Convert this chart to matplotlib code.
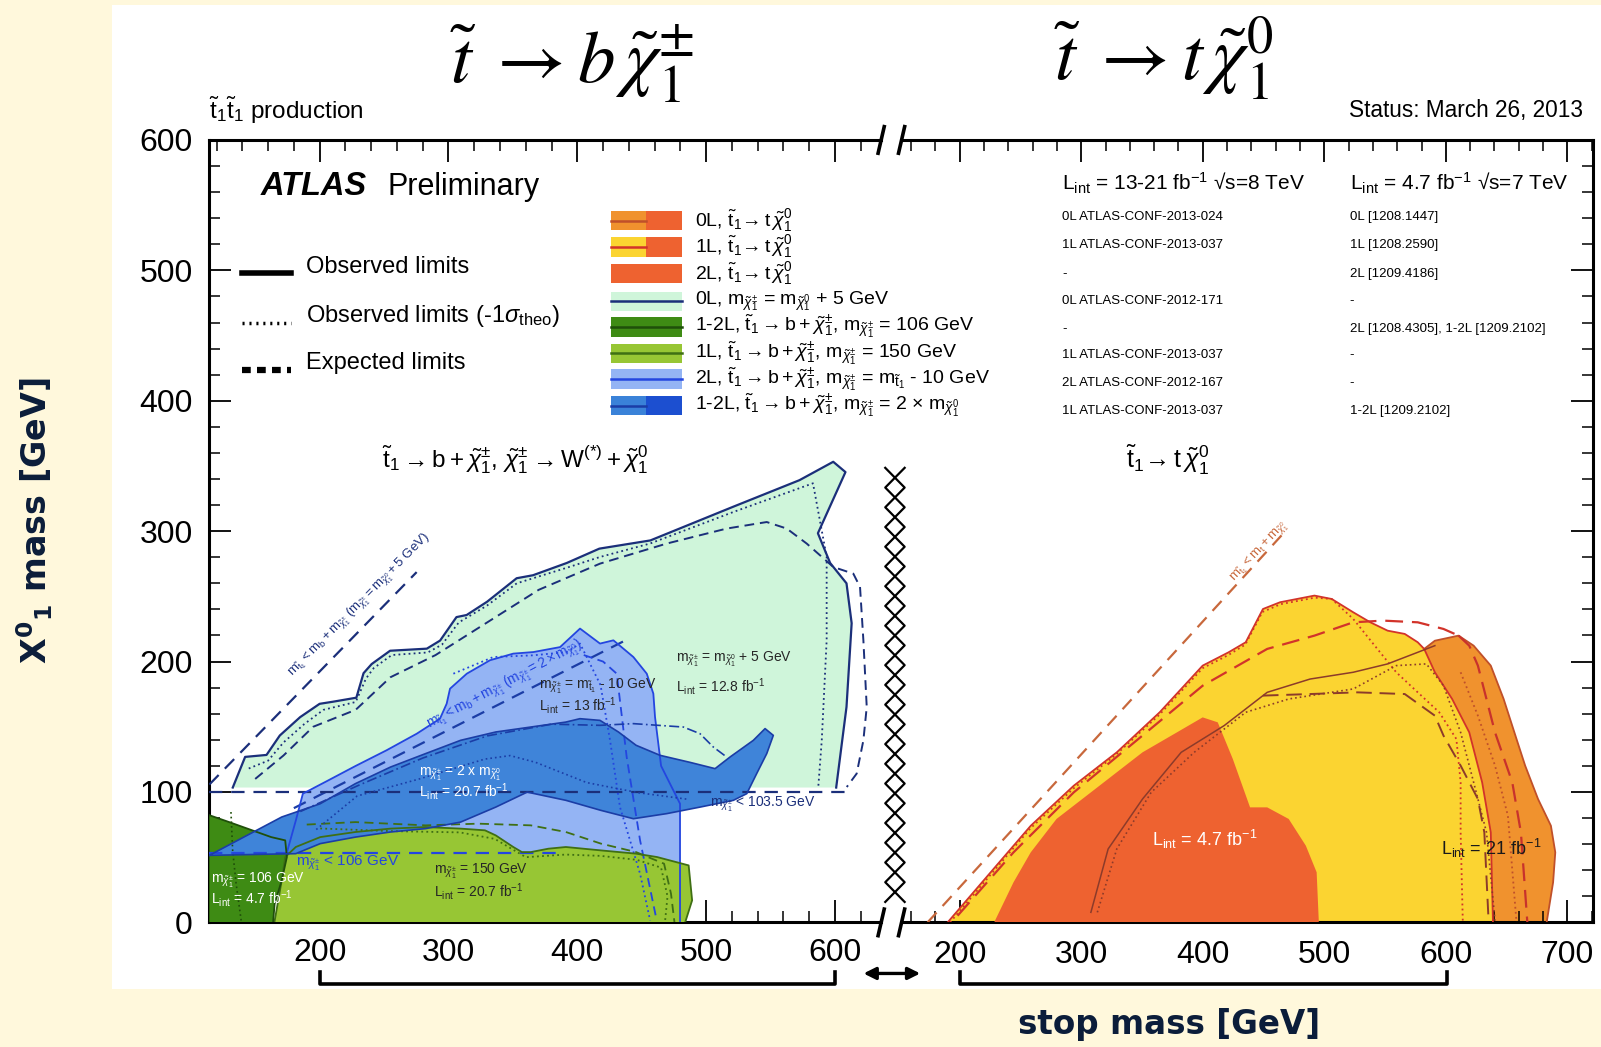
import matplotlib
matplotlib.use("Agg")
import matplotlib.pyplot as plt
from matplotlib.patches import Rectangle, FancyArrowPatch
from matplotlib.lines import Line2D
from matplotlib.ticker import MultipleLocator
import numpy as np

# ---------------------------------------------------------------
# Exclusion contours, (stop mass, neutralino mass) in GeV
# ---------------------------------------------------------------
# stop -> b + chargino panel
mint_x = [132.6, 142.2, 158.8, 169.1, 184.9, 200.0, 210.3, 228.5, 234.1, 240.4, 254.7, 283.2, 293.5,
          306.2, 314.1, 330.0, 352.9, 365.6, 391.8, 417.1, 456.7, 520.9, 572.4, 598.6, 608.1, 586.7,
          596.2, 608.9, 612.9, 608.9, 600.9]
mint_y = [103.4, 126.9, 128.4, 143.3, 157.4, 167.6, 169.2, 172.3, 191.1, 198.1, 208.3, 209.9, 216.1,
          234.1, 235.7, 245.9, 263.9, 266.2, 275.6, 286.6, 292.9, 318.7, 339.1, 353.2, 345.3, 298.4,
          275.6, 260.0, 229.4, 165.2, 103.4]
mint_m1s_x = [145, 160, 172, 188, 203, 228, 236, 242, 256, 284, 295, 308, 330, 353, 392, 417.6, 456.4,
              521.1, 582.9, 593.5, 593.5, 589.7, 587.0]
mint_m1s_y = [118, 124, 138, 152, 163, 169, 187, 195, 205, 207, 213, 230, 243, 260, 272, 280.2, 290.5,
              314.7, 336.7, 280.2, 216.3, 139.6, 103.8]
mint_exp_x = [150, 172, 195, 228, 255, 290, 330, 370, 417.6, 469.4, 516.0, 547.0, 562.5, 578.0, 598.7,
              614.2, 619.4, 622.0, 624.6, 622.0, 616.8, 609.1]
mint_exp_y = [110, 128, 150, 163, 188, 205, 230, 255, 275.1, 290.5, 302.0, 307.0, 302.0, 290.5, 272.5,
              267.4, 257.2, 216.3, 165.1, 139.6, 114.1, 103.8]

lb_x = [175, 175, 181.5, 187.0, 205.0, 228.0, 252.0, 275.4, 293.4, 298.6, 301.2, 314.2, 332.2, 350.3,
        365.9, 386.6, 402.1, 417.6, 428.0, 443.5, 453.9, 459.0, 460.3, 465.0, 479.7, 479.7]
lb_y = [0, 55, 78.0, 98.7, 108.0, 120.0, 132.0, 144.7, 156.2, 167.7, 179.2, 190.7, 201.0, 206.1,
        207.3, 211.1, 225.3, 213.8, 216.3, 203.5, 190.7, 175.4, 157.5, 120.0, 91.0, 0]
lb_m1s_x = [303.8, 334.8, 365.9, 391.8, 402.1, 410.0, 418.0, 425.4, 433.1, 448.7, 456.5]
lb_m1s_y = [190.7, 203.5, 204.8, 207.3, 213.8, 198.0, 182.0, 139.6, 88.4, 37.3, 1.5]
lb_exp_x = [405, 420, 430.6, 438.3, 448.7, 461.6]
lb_exp_y = [205, 200, 190.7, 126.8, 62.9, 1.5]

db_x = [114.4, 170.6, 200.5, 227.8, 255.0, 282.2, 309.4, 336.7, 363.9, 391.1, 402.0, 417.6, 431.9,
        445.6, 464.2, 487.5, 506.9, 518.5, 536.6, 545.7, 552.1, 547.0, 539.2, 531.5, 521.1, 495.2,
        469.4, 443.5, 418.3, 391.1, 361.1, 336.7, 309.4, 282.2, 255.0, 227.8, 200.5, 181.5, 114.4]
db_y = [51.4, 80.8, 91.0, 106.4, 119.1, 129.4, 139.6, 146.0, 149.8, 153.6, 156.2, 154.9, 146.0,
        135.8, 128.1, 122.7, 117.9, 126.8, 139.6, 148.6, 143.4, 129.4, 114.1, 98.7, 93.6, 88.4,
        83.4, 79.5, 85.9, 93.6, 99.9, 88.4, 76.9, 71.9, 69.3, 65.4, 60.4, 52.7, 51.4]
db_exp_x = [185, 230, 280, 330, 380, 417.6, 443.5, 482.3, 495.2, 505.5, 515.9]
db_exp_y = [85, 105, 126, 143, 152, 151.1, 152.4, 149.8, 144.7, 134.5, 126.8]
db_m1s_x = [197.4, 229.1, 276.7, 328.1, 347.9, 367.7, 407.3, 447.0, 486.5]
db_m1s_y = [71.2, 96.9, 109.8, 125.2, 127.9, 122.7, 107.2, 99.5, 94.3]

lg_x = [164.9, 170.6, 173.3, 181.5, 200.5, 227.8, 255.0, 282.2, 309.4, 328.3, 336.7, 350.3, 357.0,
        363.9, 377.5, 391.1, 418.3, 445.6, 461.9, 486.4, 489.1, 483.7]
lg_y = [0, 32.2, 50.1, 57.8, 65.4, 69.3, 71.9, 73.1, 71.9, 70.6, 66.7, 57.8, 53.9,
        53.9, 56.5, 57.8, 55.2, 52.7, 50.1, 43.7, 16.9, 0]
lg_exp_x = [190, 227.8, 282.2, 323.0, 363.9, 391.1, 418.3, 445.6, 467.3, 472.7, 475.4]
lg_exp_y = [75, 76.9, 74.4, 75.7, 74.4, 69.3, 60.4, 53.9, 45.0, 22.0, 0]
lg_m1s_x = [200.5, 255, 309, 336, 360, 391, 418, 446, 465, 470, 468]
lg_m1s_y = [72, 70, 69, 64, 50, 52, 51, 48, 42, 20, 0]

dg_x = [114.4, 129.8, 162.4, 173.3, 174.6, 170.6, 165.1, 163.9, 114.4]
dg_y = [82.2, 76.9, 65.4, 62.9, 50.1, 32.2, 14.3, 0, 0]
dg_m1s_x = [131.2, 132.5, 135.2, 139.3]
dg_m1s_y = [84.6, 55.2, 29.7, 0.2]

kin_b5_x = [114.4, 275.3]
kin_b5_y = [105.7, 268.6]
kin_b2_x = [180, 436]
kin_b2_y = [87.6, 215.6]
lep_103_x = [114.4, 612]
lep_103_y = [100, 100]
lep_106_x = [114.4, 385]
lep_106_y = [53, 53]

# stop -> t + neutralino panel
yel_x = [190, 223.0, 258.4, 293.8, 329.2, 364.5, 399.9, 421.2, 435.3, 449.5, 463.6, 491.9, 506.1,
         523.8, 537.9, 552.1, 566.2, 576.9, 582.2, 591.0, 605.2, 619.3, 629.9, 637.0, 638.8]
yel_y = [0, 35.8, 74.1, 104.8, 130.4, 161.1, 196.9, 207.1, 214.8, 240.3, 245.5, 250.6, 248.0,
         237.8, 230.1, 223.7, 221.2, 214.8, 209.7, 191.8, 171.3, 145.7, 107.4, 69.0, 0]
yel_m1s_x = [192, 223, 258, 294, 329, 364, 400, 421, 435, 449, 464, 492, 506.1, 523.8, 541.5, 559.2,
             576.9, 594.6, 608.7, 612.2, 612.2, 614.0]
yel_m1s_y = [0, 34, 72, 103, 129, 159, 195, 205, 213, 238, 244, 249, 248, 232.7, 212.2, 191.8,
             176.4, 161.1, 140.6, 107.4, 69.0, 0]
yel_exp_x = [198.2, 244.2, 293.8, 346.9, 399.9, 453.0, 491.9, 523.8, 548.5, 576.9, 598.1, 610.5]
yel_exp_y = [5.1, 53.7, 99.7, 140.6, 181.5, 209.7, 219.9, 230.1, 231.4, 230.1, 225.0, 219.9]

org_x = [582.2, 591.0, 610.5, 622.9, 637.0, 647.6, 658.2, 665.3, 675.9, 686.5, 690.1, 688.3, 683.0,
         638.8, 637.0, 629.9, 619.3, 605.2, 591.0]
org_y = [209.7, 216.0, 219.9, 212.2, 196.9, 171.3, 140.6, 120.2, 94.6, 74.1, 53.7, 30.7, 0,
         0, 69.0, 107.4, 145.7, 171.3, 191.8]
org_exp_x = [610.5, 619.3, 626.4, 640.5, 654.7, 661.8, 667.1]
org_exp_y = [219.9, 212.2, 196.9, 145.7, 107.4, 69.0, 0]
org_m1s_x = [612.2, 626.4, 640.5, 651.1, 658.2]
org_m1s_y = [191.8, 158.5, 120.2, 81.8, 0]

red_x = [228.3, 244.2, 258.4, 279.6, 311.5, 350.4, 378.7, 399.9, 412.3, 424.7, 438.9, 453.0, 470.7,
         484.8, 493.7, 495.5]
red_y = [0, 30.7, 53.7, 79.3, 102.3, 130.4, 145.7, 157.2, 153.4, 125.3, 88.2, 88.2, 79.3,
         58.8, 38.4, 0]
old_obs_x = [307.9, 322.1, 350.4, 382.2, 417.6, 453.0, 488.3, 523.8, 552.1, 576.9, 591.0]
old_obs_y = [7.7, 56.3, 94.6, 130.4, 150.9, 176.4, 186.6, 191.8, 198.2, 207.1, 212.2]
old_m1s_x = [313.2, 329.2, 357.5, 392.9, 435.3, 470.7, 523.8, 559.2, 584.0, 598.1, 612.2, 622.9,
             633.5, 640.5]
old_m1s_y = [7.7, 56.3, 99.7, 130.4, 161.1, 171.3, 179.0, 196.9, 198.2, 181.5, 145.7, 107.4,
             69.0, 1.3]
old_exp_x = [449.5, 488.3, 527.2, 566.2, 591.0, 598.1, 612.2, 626.4, 631.7, 635.2]
old_exp_y = [173.9, 175.1, 176.4, 175.1, 158.5, 143.2, 120.2, 94.6, 69.0, 1.3]

kin_t_x = [173.5, 467]
kin_t_y = [0, 299]

left_ticks = [200, 300, 400, 500, 600]
right_ticks = [200, 300, 400, 500, 600, 700]
y_ticks = [0, 100, 200, 300, 400, 500, 600]

# reference columns
conf_8tev = ["0L ATLAS-CONF-2013-024", "1L ATLAS-CONF-2013-037", "-", "0L ATLAS-CONF-2012-171", "-",
             "1L ATLAS-CONF-2013-037", "2L ATLAS-CONF-2012-167", "1L ATLAS-CONF-2013-037"]
conf_7tev = ["0L [1208.1447]", "1L [1208.2590]", "2L [1209.4186]", "-",
             "2L [1208.4305], 1-2L [1209.2102]", "-", "-", "1-2L [1209.2102]"]

# ---------------------------------------------------------------
CREAM = "#fff8dc"
MINT = "#cff5da"
LBLUE = "#94b4f4"
DBLUE = "#3f84d9"
LGREEN = "#97c634"
DGREEN = "#3e8b14"
YELLOW = "#fbd431"
ORANGE = "#f0922e"
REDOR = "#ee6230"
NAVY = "#1b2f7a"
BLINE = "#2446e0"
DBLINE = "#1b3da6"
GLINE = "#3f6f14"
DGLINE = "#1f4f0a"
RLINE = "#d2332a"
OLINE = "#c0502a"
BROWN = "#8c3b2a"
KINR = "#c8683c"

plt.rcParams.update({
    "font.family": ["Liberation Sans", "DejaVu Sans"],
    "mathtext.fontset": "custom",
    "mathtext.rm": "Liberation Sans",
    "mathtext.it": "Liberation Sans:italic",
    "mathtext.bf": "Liberation Sans:bold",
    "mathtext.sf": "Liberation Sans",
})

W, H = 1568.0, 1025.0


def fx(px):
    return px / W


def fy(py):
    return 1.0 - py / H


fig = plt.figure(figsize=(16.01, 10.47), dpi=100, facecolor=CREAM)
fig.patches.append(Rectangle((fx(110), fy(968)), 1 - fx(110), fy(5) - fy(968),
                             transform=fig.transFigure, facecolor="white",
                             edgecolor="none", zorder=-10))

axL = fig.add_axes([fx(205), fy(903), fx(863) - fx(205), fy(137) - fy(903)])
axR = fig.add_axes([fx(883), fy(903), fx(1560) - fx(883), fy(137) - fy(903)])
axL.set_xlim(114.4, 635.8)
axR.set_xlim(152.1, 721.0)

for ax in (axL, axR):
    ax.set_facecolor("none")
    ax.set_ylim(0, 600)
    ax.xaxis.set_major_locator(MultipleLocator(100))
    ax.xaxis.set_minor_locator(MultipleLocator(20))
    ax.yaxis.set_major_locator(MultipleLocator(100))
    ax.yaxis.set_minor_locator(MultipleLocator(20))
    ax.tick_params(which="major", direction="in", length=16, width=1.3, top=True, bottom=True)
    ax.tick_params(which="minor", direction="in", length=8, width=1.1, top=True, bottom=True)
    for s in ax.spines.values():
        s.set_linewidth(2.2)

axL.spines["right"].set_visible(False)
axL.tick_params(axis="y", which="both", left=True, right=False, labelsize=23, pad=12)
axL.tick_params(axis="x", labelsize=23, pad=11)
axL.set_xticks(left_ticks)
axL.set_yticks(y_ticks)
axR.spines["left"].set_visible(False)
axR.tick_params(axis="y", which="both", left=False, right=True, labelleft=False, labelright=False)
axR.tick_params(axis="x", labelsize=23, pad=13)
axR.set_xticks(right_ticks)
axR.set_yticks(y_ticks)

# ---------------- left panel: stop -> b chargino ----------------
axL.fill(mint_x, mint_y, facecolor=MINT, edgecolor="none", zorder=1)
axL.fill(lb_x, lb_y, facecolor=LBLUE, edgecolor="none", zorder=2)
axL.fill(lg_x, lg_y, facecolor=LGREEN, edgecolor="none", zorder=3)
axL.fill(dg_x, dg_y, facecolor=DGREEN, edgecolor="none", zorder=4)
axL.fill(db_x, db_y, facecolor=DBLUE, edgecolor="none", zorder=5)

axL.plot(mint_x, mint_y, color=NAVY, lw=1.6, zorder=10)
axL.plot(mint_m1s_x, mint_m1s_y, color=NAVY, lw=1.3, ls=(0, (1, 1.8)), zorder=10)
axL.plot(mint_exp_x, mint_exp_y, color=NAVY, lw=1.4, ls=(0, (5, 3)), zorder=10)

axL.plot(lb_x[1:], lb_y[1:], color=BLINE, lw=1.3, zorder=10)
axL.plot(lb_m1s_x, lb_m1s_y, color=BLINE, lw=1.3, ls=(0, (1, 1.8)), zorder=10)
axL.plot(lb_exp_x, lb_exp_y, color=BLINE, lw=1.3, ls=(0, (5, 3)), zorder=10)

axL.plot(lg_x, lg_y, color=GLINE, lw=1.3, zorder=10)
axL.plot(lg_exp_x, lg_exp_y, color=GLINE, lw=1.3, ls=(0, (5, 3)), zorder=10)
axL.plot(lg_m1s_x, lg_m1s_y, color=GLINE, lw=1.3, ls=(0, (1, 1.8)), zorder=10)

axL.plot(dg_x[:8], dg_y[:8], color=DGLINE, lw=1.3, zorder=10)
axL.plot(dg_m1s_x, dg_m1s_y, color=DGLINE, lw=1.2, ls=(0, (1, 1.8)), zorder=10)

axL.plot(db_x, db_y, color=DBLINE, lw=1.2, zorder=10)
axL.plot(db_exp_x, db_exp_y, color=DBLINE, lw=1.2, ls=(0, (6, 2, 1, 2)), zorder=10)
axL.plot(db_m1s_x, db_m1s_y, color=DBLINE, lw=1.2, ls=(0, (1, 1.8)), zorder=10)

axL.plot(kin_b5_x, kin_b5_y, color=NAVY, lw=1.6, ls=(0, (6, 4)), zorder=9)
axL.plot(kin_b2_x, kin_b2_y, color=DBLINE, lw=1.6, ls=(0, (6, 4)), zorder=9)
axL.plot(lep_103_x, lep_103_y, color=NAVY, lw=1.6, ls=(0, (6, 4)), zorder=9)
axL.plot(lep_106_x, lep_106_y, color=BLINE, lw=1.6, ls=(0, (6, 4)), zorder=9)

MCPM = r"\mathrm{m}_{\tilde{\chi}^{\pm}_{1}}"
MC0 = r"\mathrm{m}_{\tilde{\chi}^{0}_{1}}"
MT1 = r"\mathrm{m}_{\tilde{\mathrm{t}}_{1}}"
T1 = r"\tilde{\mathrm{t}}_{1}"
C0 = r"\tilde{\chi}^{0}_{1}"
CPM = r"\tilde{\chi}^{\pm}_{1}"
LINT = r"\mathrm{L}_{\mathrm{int}}"

small = dict(fontsize=10, zorder=12, va="center", ha="left")
axL.text(476.5, 202, "$" + MCPM + "$ = $" + MC0 + "$ + 5 GeV", color="#262626", **small)
axL.text(476.5, 181, "$" + LINT + "$ = 12.8 fb$^{-1}$", color="#262626", **small)
axL.text(370.4, 181, "$" + MCPM + "$ = $" + MT1 + "$ - 10 GeV", color="#262626", **small)
axL.text(370.4, 166, "$" + LINT + "$ = 13 fb$^{-1}$", color="#262626", **small)
axL.text(276.9, 114, "$" + MCPM + "$ = 2 x $" + MC0 + "$", color="white", **small)
axL.text(276.9, 100, "$" + LINT + "$ = 20.7 fb$^{-1}$", color="white", **small)
axL.text(502.7, 90.5, "$" + MCPM + "$ < 103.5 GeV", color=NAVY, **small)
axL.text(181.8, 45, "$" + MCPM + "$ < 106 GeV", color=BLINE, fontsize=11, zorder=12, va="center")
axL.text(116, 32, "$" + MCPM + "$ = 106 GeV", color="white", **small)
axL.text(116, 18, "$" + LINT + "$ = 4.7 fb$^{-1}$", color="white", **small)
axL.text(288.7, 39, "$" + MCPM + "$ = 150 GeV", color="#262626", **small)
axL.text(288.7, 24, "$" + LINT + "$ = 20.7 fb$^{-1}$", color="#262626", **small)
axL.text(231, 243, "$" + MT1 + "<\\mathrm{m}_{\\mathrm{b}}+" + MCPM + r"\ (" + MCPM + "=" + MC0
         + r"+5\ \mathrm{GeV})$", color=NAVY, fontsize=9.5, rotation=45.3, ha="center",
         va="center", zorder=12)
axL.text(344, 182, "$" + MT1 + "<\\mathrm{m}_{\\mathrm{b}}+" + MCPM + r"\ (" + MCPM + r"=2\times"
         + MC0 + ")$", color=BLINE, fontsize=10, rotation=28, ha="center", va="center",
         zorder=12)

# ---------------- right panel: stop -> t neutralino ----------------
axR.fill(org_x, org_y, facecolor=ORANGE, edgecolor="none", zorder=1)
axR.fill(yel_x, yel_y, facecolor=YELLOW, edgecolor="none", zorder=2)
axR.fill(red_x, red_y, facecolor=REDOR, edgecolor="none", zorder=3)

axR.plot(org_x[:13], org_y[:13], color=OLINE, lw=1.3, zorder=10)
axR.plot(org_exp_x, org_exp_y, color="#c8322c", lw=1.6, ls=(0, (8, 4)), zorder=10)
axR.plot(org_m1s_x, org_m1s_y, color=OLINE, lw=1.3, ls=(0, (1, 1.8)), zorder=10)
axR.plot(yel_x, yel_y, color=RLINE, lw=1.3, zorder=10)
axR.plot(yel_m1s_x, yel_m1s_y, color=RLINE, lw=1.3, ls=(0, (1, 1.8)), zorder=10)
axR.plot(yel_exp_x, yel_exp_y, color=RLINE, lw=1.6, ls=(0, (8, 4)), zorder=10)
axR.plot(old_obs_x, old_obs_y, color=BROWN, lw=1.1, zorder=10)
axR.plot(old_m1s_x, old_m1s_y, color=BROWN, lw=1.2, ls=(0, (1, 1.8)), zorder=10)
axR.plot(old_exp_x, old_exp_y, color=BROWN, lw=1.4, ls=(0, (8, 4)), zorder=10)
axR.plot(kin_t_x, kin_t_y, color=KINR, lw=1.6, ls=(0, (6, 4)), zorder=9)

axR.text(447, 284, r"$\mathrm{m}_{\tilde{\mathrm{t}}_1}<\mathrm{m}_{\mathrm{t}}+" + MC0 + "$",
         color=KINR, fontsize=9.5, rotation=47, ha="center", va="center", zorder=12)
axR.text(401.7, 63.4, "$" + LINT + "$ = 4.7 fb$^{-1}$", color="white", fontsize=13,
         ha="center", va="center", zorder=12)
axR.text(637, 57, "$" + LINT + "$ = 21 fb$^{-1}$", color="#1a1a1a", fontsize=13,
         ha="center", va="center", zorder=12)

# ---------------- axis break decorations ----------------
for xb in (863, 883):
    for yb in (137, 903):
        fig.add_artist(Line2D([fx(xb - 3), fx(xb + 3)], [fy(yb + 13), fy(yb - 13)],
                              color="black", lw=2.6, transform=fig.transFigure))

# crossed column between the panels
n_cross = 22
ys = np.linspace(458, 883, n_cross + 1)
xz = np.where(np.arange(n_cross + 1) % 2 == 0, 867, 886)
fig.add_artist(Line2D(fx(xz), fy(ys), color="black", lw=1.6, transform=fig.transFigure))
fig.add_artist(Line2D(fx(867 + 886 - xz), fy(ys), color="black", lw=1.6, transform=fig.transFigure))

# brackets and the arrow under the axes
for x0, x1 in ((313, 818), (940, 1417)):
    fig.add_artist(Line2D([fx(x0), fx(x0), fx(x1), fx(x1)], [fy(952), fy(963), fy(963), fy(952)],
                          color="black", lw=2.6, transform=fig.transFigure))
fig.add_artist(FancyArrowPatch((fx(843), fy(953)), (fx(904), fy(953)),
                               transform=fig.transFigure, arrowstyle="<|-|>",
                               mutation_scale=18, lw=2.4, color="black"))

# ---------------- titles and annotations ----------------
fig.text(fx(560), fy(62), r"$\tilde{t}\;\rightarrow b\,\tilde{\chi}^{\pm}_{1}$", fontsize=54,
         math_fontfamily="stix", ha="center", va="center")
fig.text(fx(1140), fy(57), r"$\tilde{t}\;\rightarrow t\,\tilde{\chi}^{0}_{1}$", fontsize=54,
         math_fontfamily="stix", ha="center", va="center")
fig.text(fx(205), fy(108), r"$\tilde{\mathrm{t}}_{1}\tilde{\mathrm{t}}_{1}$ production",
         fontsize=17.5, ha="left", va="center")
fig.text(fx(1550), fy(108), "Status: March 26, 2013", fontsize=16.3, ha="right", va="center")

fig.text(fx(255), fy(183), "ATLAS", fontsize=23.5, fontweight="bold", style="italic",
         ha="left", va="center")
fig.text(fx(380), fy(183), "Preliminary", fontsize=22, ha="left", va="center")

# line-style key
fig.add_artist(Line2D([fx(237), fx(285)], [fy(267), fy(267)], color="black", lw=4,
                      transform=fig.transFigure))
fig.add_artist(Line2D([fx(237), fx(285)], [fy(316), fy(316)], color="black", lw=2.5,
                      ls=(0, (0.6, 1.4)), transform=fig.transFigure))
fig.add_artist(Line2D([fx(237), fx(285)], [fy(362), fy(362)], color="black", lw=4.5,
                      ls=(0, (1.4, 1.0)), transform=fig.transFigure))
fig.text(fx(300), fy(261), "Observed limits", fontsize=17, ha="left", va="center")
fig.text(fx(300), fy(309), r"Observed limits (-1$\sigma_{\mathrm{theo}}$)", fontsize=17,
         ha="left", va="center")
fig.text(fx(300), fy(355), "Expected limits", fontsize=17, ha="left", va="center")

# colour key
leg_labels = [
    "0L, $" + T1 + r"\!\rightarrow\mathrm{t}\," + C0 + "$",
    "1L, $" + T1 + r"\!\rightarrow\mathrm{t}\," + C0 + "$",
    "2L, $" + T1 + r"\!\rightarrow\mathrm{t}\," + C0 + "$",
    "0L, $" + MCPM + "$ = $" + MC0 + "$ + 5 GeV",
    "1-2L, $" + T1 + r"\rightarrow\mathrm{b}+" + CPM + "$, $" + MCPM + "$ = 106 GeV",
    "1L, $" + T1 + r"\rightarrow\mathrm{b}+" + CPM + "$, $" + MCPM + "$ = 150 GeV",
    "2L, $" + T1 + r"\rightarrow\mathrm{b}+" + CPM + "$, $" + MCPM + "$ = $" + MT1 + "$ - 10 GeV",
    "1-2L, $" + T1 + r"\rightarrow\mathrm{b}+" + CPM + "$, $" + MCPM + r"$ = 2 $\times$ $" + MC0 + "$",
]
leg_left = [ORANGE, YELLOW, REDOR, MINT, DGREEN, LGREEN, LBLUE, "#3a82d8"]
leg_right = [REDOR, REDOR, REDOR, MINT, DGREEN, LGREEN, LBLUE, "#1c4fd0"]
leg_line = [OLINE, RLINE, None, NAVY, DGLINE, GLINE, BLINE, DBLINE]
leg_full_line = [False, False, False, True, True, True, True, False]
rows = [216, 242, 268, 295, 320, 346, 371, 397]
for lab, cl, cr, lc, full, r in zip(leg_labels, leg_left, leg_right, leg_line, leg_full_line, rows):
    hh = 9.5
    fig.patches.append(Rectangle((fx(598), fy(r + hh)), fx(633) - fx(598), fy(r - hh) - fy(r + hh),
                                 transform=fig.transFigure, facecolor=cl, edgecolor="none"))
    fig.patches.append(Rectangle((fx(633), fy(r + hh)), fx(668) - fx(633), fy(r - hh) - fy(r + hh),
                                 transform=fig.transFigure, facecolor=cr, edgecolor="none"))
    if lc is not None:
        x_end = 668 if full else 633
        fig.add_artist(Line2D([fx(598), fx(x_end)], [fy(r), fy(r)], color=lc, lw=1.8,
                              transform=fig.transFigure))
    fig.text(fx(681), fy(r), lab, fontsize=14, ha="left", va="center")

fig.text(fx(505), fy(450), "$" + T1 + r"\rightarrow\mathrm{b}+" + CPM + "$, $" + CPM
         + r"\rightarrow\mathrm{W}^{(*)}+" + C0 + "$", fontsize=17.5, ha="center", va="center")
fig.text(fx(1143), fy(450), "$" + T1 + r"\!\rightarrow\mathrm{t}\," + C0 + "$", fontsize=18,
         ha="center", va="center")

# luminosity header and reference table
fig.text(fx(1040), fy(180), "$" + LINT + "$ = 13-21 fb$^{-1}$ √s=8 TeV", fontsize=15,
         ha="left", va="center")
fig.text(fx(1322), fy(180), "$" + LINT + "$ = 4.7 fb$^{-1}$ √s=7 TeV", fontsize=15,
         ha="left", va="center")
table_rows = [212, 240, 268, 295, 322, 348, 375, 402]
for a, b, r in zip(conf_8tev, conf_7tev, table_rows):
    fig.text(fx(1040), fy(r), a, fontsize=9.5, ha="left", va="center")
    fig.text(fx(1322), fy(r), b, fontsize=9.5, ha="left", va="center")

# axis titles
fig.text(fx(34), fy(510), r"X$^{\mathbf{0}}$$_{\mathbf{1}}$ mass [GeV]", rotation=90,
         fontsize=24, fontweight="bold", family="DejaVu Sans", math_fontfamily="dejavusans",
         color="#0b1d3a", ha="center", va="center")
fig.text(fx(1145), fy(1003), "stop mass [GeV]", fontsize=23.5, fontweight="bold",
         family="DejaVu Sans", color="#0b1d3a", ha="center", va="center")

fig.savefig("out.png", dpi=100, facecolor=CREAM)
